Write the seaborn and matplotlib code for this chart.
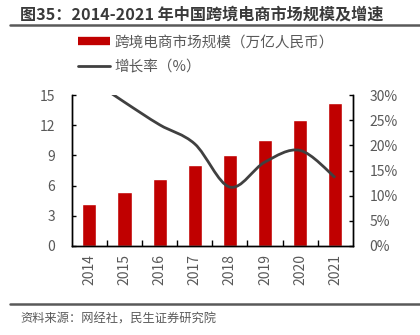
import numpy as np
import pandas as pd
import matplotlib
matplotlib.use("Agg")
import matplotlib.pyplot as plt
import seaborn as sns
from matplotlib.path import Path
from matplotlib.patches import PathPatch
from matplotlib.lines import Line2D

years = ["2014", "2015", "2016", "2017", "2018", "2019", "2020", "2021"]
scale = [4.2, 5.4, 6.7, 8.06, 9.0, 10.5, 12.5, 14.2]
growth = [33.3, 28.6, 24.1, 20.3, 11.7, 16.7, 19.0, 13.6]
left_ticks = [0, 3, 6, 9, 12, 15]
right_ticks = [0, 5, 10, 15, 20, 25, 30]
title = "图35：2014-2021 年中国跨境电商市场规模及增速"
source = "资料来源：网经社，民生证券研究院"
bar_label = "跨境电商市场规模（万亿人民币）"
line_label = "增长率（%）"

sns.set_theme(style="white")
plt.rcParams["font.family"] = ["Noto Sans CJK SC", "DejaVu Sans"]

RED = "#C00000"
GRAY = "#404040"
TXT = "#595959"

fig = plt.figure(figsize=(4.2, 3.35), dpi=100)
ax = fig.add_axes([0.171, 0.266, 0.669, 0.450])

df = pd.DataFrame({"year": years, "scale": scale})
sns.barplot(data=df, x="year", y="scale", order=years, color=RED,
            saturation=1, width=0.4, ax=ax)
ax.set_xlim(-0.5, 7.5)
ax.set_ylim(0, 15)
ax.set_yticks(left_ticks)
ax.set_xlabel("")
ax.set_ylabel("")

ax2 = ax.twinx()
ax2.set_ylim(0, 30)
ax2.set_yticks(right_ticks)
ax2.set_yticklabels([f"{t}%" for t in right_ticks])

# smooth line (Excel-style cubic Bezier through the data points)
pts = np.column_stack([np.arange(len(growth)), np.array(growth, dtype=float)])
n = len(pts)
verts = [tuple(pts[0])]
codes = [Path.MOVETO]
for i in range(n - 1):
    p0 = pts[i - 1] if i > 0 else pts[i]
    p1 = pts[i]
    p2 = pts[i + 1]
    p3 = pts[i + 2] if i + 2 < n else pts[i + 1]
    c1 = p1 + (p2 - p0) / 6.0
    c2 = p2 - (p3 - p1) / 6.0
    verts += [tuple(c1), tuple(c2), tuple(p2)]
    codes += [Path.CURVE4] * 3
patch = PathPatch(Path(verts, codes), facecolor="none", edgecolor=GRAY,
                  linewidth=2.0, transform=ax2.transData, clip_on=True)
ax2.add_patch(patch)
ax2.set_xlim(-0.5, 7.5)

for a in (ax, ax2):
    a.spines["top"].set_visible(False)
    for s in ("left", "right", "bottom"):
        a.spines[s].set_color("black")
        a.spines[s].set_linewidth(1.0)
    a.grid(False)

ax.tick_params(axis="y", direction="in", length=3, color="black", width=1,
               labelsize=10, labelcolor=TXT, pad=12, left=True)
ax2.tick_params(axis="y", direction="in", length=3, color="black", width=1,
                labelsize=10, labelcolor=TXT, pad=12, right=True)
ax.tick_params(axis="x", which="major", length=0, labelsize=10,
               labelcolor=TXT, pad=6, labelrotation=90)
ax.set_xticks(np.arange(0.5, 7.5, 1.0), minor=True)
ax.tick_params(axis="x", which="minor", direction="in", length=4,
               color="black", width=1, bottom=True)

handles = [Line2D([0], [0], color=RED, lw=6, solid_capstyle="butt"),
           Line2D([0], [0], color=GRAY, lw=2)]
fig.legend(handles, [bar_label, line_label], loc="upper left",
           bbox_to_anchor=(0.185, 0.895), frameon=False, fontsize=10.5,
           labelcolor=TXT, handlelength=2.2, handletextpad=0.3,
           labelspacing=0.75, borderpad=0, borderaxespad=0)

fig.text(0.048, 0.958, title, fontsize=11.6, fontweight="bold", color="#3a3a3a",
         ha="left", va="center")
fig.add_artist(Line2D([0.024, 1.0], [0.925, 0.925], color="#595959", lw=1.8,
                      transform=fig.transFigure))
fig.add_artist(Line2D([0.024, 1.0], [0.092, 0.092], color="#595959", lw=1.8,
                      transform=fig.transFigure))
fig.text(0.048, 0.048, source, fontsize=8.8, color=TXT, ha="left", va="center")

fig.savefig("out.png", dpi=100)
